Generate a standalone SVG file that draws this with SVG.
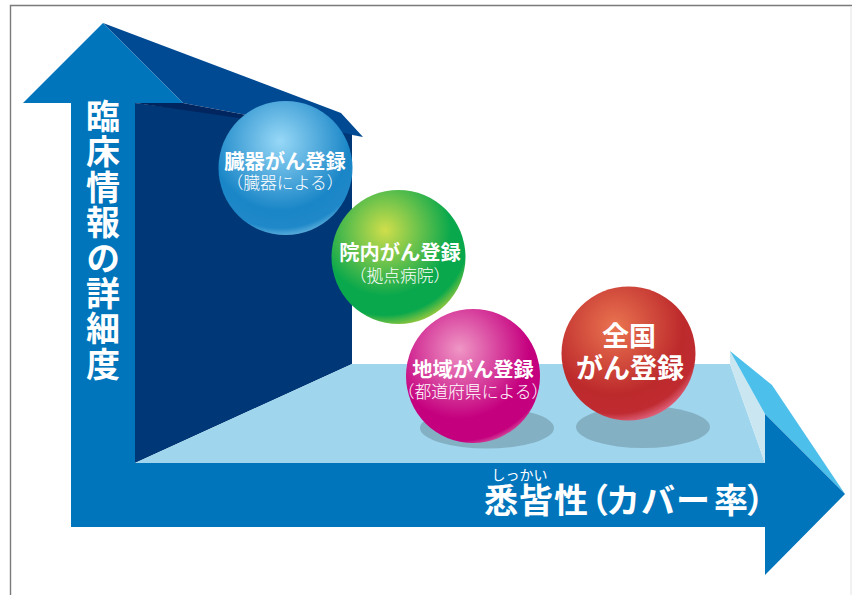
<svg xmlns="http://www.w3.org/2000/svg" width="852" height="595" viewBox="0 0 852 595">
  <style>
    text { font-family: "Noto Sans CJK JP", "Noto Sans", sans-serif; fill: #fff; text-anchor: middle; }
    .name { font-size: 20.3px; font-weight: 700; }
    .sub { font-size: 16.8px; font-weight: 300; }
    .big { font-size: 27px; font-weight: 700; }
    .axis { font-size: 34px; font-weight: 700; }
    .axis-v { writing-mode: vertical-rl; text-anchor: start; letter-spacing: 1.4px; }
    .ruby { font-size: 14px; font-weight: 400; }
  </style>
  <defs>
    <radialGradient id="ballBlue" cx="0.46" cy="0.3" r="0.72">
      <stop offset="0" stop-color="#97d8f7"/>
      <stop offset="0.72" stop-color="#1a86c7"/>
      <stop offset="0.9" stop-color="#1f88c8"/>
      <stop offset="1" stop-color="#68b6e0"/>
    </radialGradient>
    <radialGradient id="ballGreen" cx="0.4" cy="0.3" r="0.72">
      <stop offset="0" stop-color="#d0de4b"/>
      <stop offset="0.68" stop-color="#0aa84c"/>
      <stop offset="0.88" stop-color="#0aa84c"/>
      <stop offset="1" stop-color="#8cc63f"/>
    </radialGradient>
    <radialGradient id="ballPink" cx="0.4" cy="0.3" r="0.72">
      <stop offset="0" stop-color="#ef96c5"/>
      <stop offset="0.72" stop-color="#c5007f"/>
      <stop offset="0.95" stop-color="#c4007e"/>
      <stop offset="1" stop-color="#cf3f96"/>
    </radialGradient>
    <radialGradient id="ballRed" cx="0.4" cy="0.3" r="0.72">
      <stop offset="0" stop-color="#ea7450"/>
      <stop offset="0.7" stop-color="#bd2a2c"/>
      <stop offset="0.9" stop-color="#bf2b30"/>
      <stop offset="1" stop-color="#dd5f78"/>
    </radialGradient>
  </defs>

  <!-- outer frame -->
  <path d="M10.5 595V5.5H852" fill="none" stroke="#7a7a7a" stroke-width="1.4"/>
  <path d="M851 6V595" fill="none" stroke="#e2e2e2" stroke-width="1"/>

  <g id="connectors">
    <!-- back wall and roof of the vertical axis -->
    <polygon points="135,103 352,130 352,364 135,463" fill="#003877"/>
    <polygon points="103,23 341,113 363,137 343,133 183,103" fill="#004a94"/>
    <polygon points="135,103 183,103 363,137 343,133" fill="#00255f"/>
    <!-- floor and far end of the horizontal axis -->
    <polygon points="135,463 352,364 730,364 765,463" fill="#9fd6ee"/>
    <polygon points="730,351 765,414 765,463 730,364" fill="#c9e6f1"/>
    <polygon points="730,351 772,385 845,494 765,414" fill="#4dbfeb"/>
    <!-- L-shaped double arrow -->
    <polygon points="103,23 183,103 135,103 135,463 765,463 765,414 845,494 765,575 765,527 71,527 71,103 23,103" fill="#0075bc"/>
  </g>

  <g id="axis-detail">
    <text class="axis axis-v" x="103" y="99">臨床情報の詳細度</text>
  </g>

  <g id="axis-coverage">
    <text class="ruby" x="519.5" y="480">しっかい</text>
    <text class="axis" x="501 536 571 592 623 658 693 731 763" y="513">悉皆性（カバー率）</text>
  </g>

  <g id="node-organ">
    <circle cx="285.5" cy="168" r="67" fill="url(#ballBlue)"/>
    <text class="name" x="285" y="169">臓器がん登録</text>
    <text class="sub" x="285" y="189">（臓器による）</text>
  </g>

  <g id="node-hospital">
    <circle cx="398.5" cy="257" r="67" fill="url(#ballGreen)"/>
    <text class="name" x="400" y="260">院内がん登録</text>
    <text class="sub" x="400" y="282">（拠点病院）</text>
  </g>

  <g id="node-regional">
    <ellipse cx="487" cy="428" rx="67" ry="20.5" fill="#84b0c4"/>
    <circle cx="473" cy="376" r="67" fill="url(#ballPink)"/>
    <text class="name" x="473" y="377">地域がん登録</text>
    <text class="sub" x="473" y="398">（都道府県による）</text>
  </g>

  <g id="node-national">
    <ellipse cx="643" cy="427" rx="67" ry="21" fill="#84b0c4"/>
    <circle cx="628.5" cy="353.5" r="67" fill="url(#ballRed)"/>
    <text class="big" x="629" y="346">全国</text>
    <text class="big" x="630" y="378">がん登録</text>
  </g>
</svg>
